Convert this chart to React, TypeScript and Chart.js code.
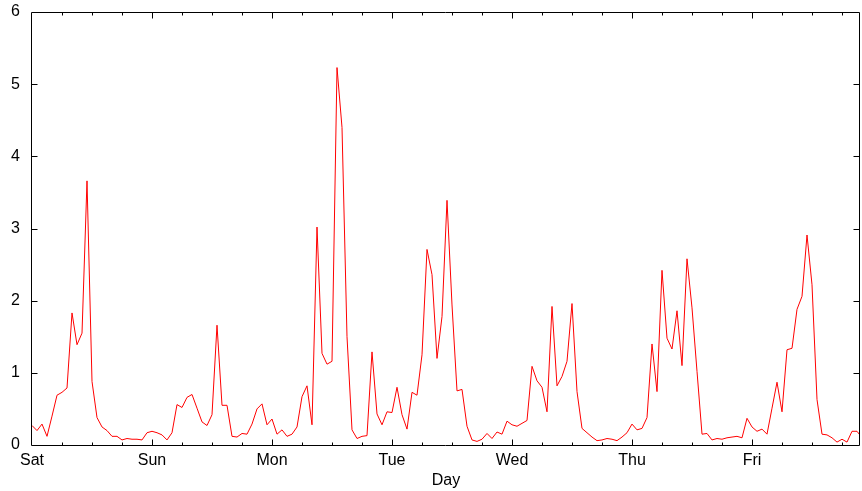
import { useEffect, useRef } from "react";
import { Chart, registerables } from "chart.js";

Chart.register(...registerables);

// Hourly readings, one array per day (index 0 = midnight)
const satValues = [0.27, 0.2, 0.29, 0.12, 0.4, 0.69, 0.73, 0.79, 1.83, 1.39, 1.55, 3.66, 0.88, 0.38, 0.25, 0.2, 0.12, 0.12, 0.07, 0.09, 0.08, 0.08, 0.07, 0.17];
const sunValues = [0.19, 0.17, 0.14, 0.07, 0.17, 0.56, 0.52, 0.66, 0.7, 0.51, 0.32, 0.27, 0.42, 1.66, 0.55, 0.55, 0.12, 0.11, 0.16, 0.15, 0.29, 0.5, 0.57, 0.28];
const monValues = [0.36, 0.15, 0.21, 0.12, 0.15, 0.25, 0.67, 0.82, 0.28, 3.02, 1.27, 1.12, 1.16, 5.23, 4.4, 1.5, 0.21, 0.09, 0.12, 0.13, 1.29, 0.43, 0.28, 0.46];
const tueValues = [0.45, 0.8, 0.42, 0.22, 0.73, 0.69, 1.25, 2.71, 2.36, 1.2, 1.78, 3.39, 1.94, 0.75, 0.77, 0.26, 0.07, 0.05, 0.08, 0.16, 0.09, 0.18, 0.15, 0.33];
const wedValues = [0.28, 0.26, 0.3, 0.34, 1.09, 0.89, 0.8, 0.46, 1.92, 0.82, 0.95, 1.16, 1.96, 0.74, 0.23, 0.17, 0.11, 0.06, 0.07, 0.09, 0.08, 0.06, 0.11, 0.17];
const thuValues = [0.29, 0.21, 0.23, 0.38, 1.4, 0.74, 2.42, 1.48, 1.33, 1.86, 1.1, 2.58, 1.9, 1.02, 0.15, 0.16, 0.07, 0.09, 0.08, 0.1, 0.11, 0.12, 0.1, 0.37];
const friValues = [0.25, 0.19, 0.22, 0.15, 0.51, 0.87, 0.46, 1.32, 1.34, 1.88, 2.06, 2.91, 2.22, 0.63, 0.15, 0.14, 0.1, 0.04, 0.08, 0.04, 0.19, 0.19, 0.1];

const dayLabels = ["Sat", "Sun", "Mon", "Tue", "Wed", "Thu", "Fri"];
const yTicks = [0, 1, 2, 3, 4, 5, 6];

const HOURS_PER_DAY = 24;
const X_MAX = 165.6;

const hourly = [satValues, sunValues, monValues, tueValues, wedValues, thuValues, friValues].flat();
const points = hourly.map((v, i) => ({ x: i, y: v }));

// Box around the plot with inward tick marks on all four sides
const framePlugin = {
  id: "frame",
  afterDraw(chart: any) {
    const { ctx, chartArea: a, scales } = chart;
    const xs = scales.x;
    const ys = scales.y;
    ctx.save();
    ctx.strokeStyle = "#000";
    ctx.lineWidth = 1;
    const L = Math.round(a.left) - 0.5;
    const R = Math.round(a.right) - 0.5;
    const T = Math.round(a.top) + 0.5;
    const B = Math.round(a.bottom) + 0.5;
    ctx.beginPath();
    ctx.rect(L, T, R - L, B - T);
    ctx.stroke();
    ctx.beginPath();
    for (const v of yTicks) {
      if (v === 0 || v === 6) continue;
      const py = Math.round(ys.getPixelForValue(v)) + 0.5;
      ctx.moveTo(L, py);
      ctx.lineTo(L + 6, py);
      ctx.moveTo(R, py);
      ctx.lineTo(R - 6, py);
    }
    for (let h = 6; h < X_MAX; h += 6) {
      const px = Math.round(xs.getPixelForValue(h)) + 0.5;
      const len = h % HOURS_PER_DAY === 0 ? 6 : 3;
      ctx.moveTo(px, B);
      ctx.lineTo(px, B - len);
      ctx.moveTo(px, T);
      ctx.lineTo(px, T + len);
    }
    ctx.stroke();
    ctx.restore();
  },
};

export default function App() {
  const ref = useRef<HTMLCanvasElement>(null);

  useEffect(() => {
    if (!ref.current) return;
    const font = { family: "'Liberation Sans', Arial, sans-serif", size: 16 };
    const chart = new Chart(ref.current, {
      type: "line",
      data: {
        datasets: [
          {
            data: points,
            borderColor: "#ff0000",
            borderWidth: 1,
            pointRadius: 0,
            tension: 0,
            fill: false,
          },
        ],
      },
      options: {
        animation: false,
        responsive: false,
        events: [],
        layout: { padding: { left: 0, right: 2, top: 12, bottom: 0 } },
        plugins: { legend: { display: false }, tooltip: { enabled: false } },
        scales: {
          x: {
            type: "linear",
            min: 0,
            max: X_MAX,
            grid: { display: false, drawTicks: false },
            border: { display: false },
            afterFit: (s: any) => {
              s.height = 46;
              s.paddingLeft = 0;
              s.paddingRight = 0;
            },
            afterBuildTicks: (s: any) => {
              s.ticks = dayLabels.map((_, i) => ({ value: i * HOURS_PER_DAY }));
            },
            ticks: {
              color: "#000",
              font,
              padding: 6,
              maxRotation: 0,
              autoSkip: false,
              callback: (v: any) => dayLabels[Math.round(Number(v) / HOURS_PER_DAY)] ?? "",
            },
            title: {
              display: true,
              text: "Day",
              color: "#000",
              font,
              padding: { top: 0, bottom: 1 },
            },
          },
          y: {
            min: 0,
            max: 6,
            grid: { display: false, drawTicks: false },
            border: { display: false },
            afterFit: (s: any) => {
              s.width = 32;
              s.paddingTop = 0;
              s.paddingBottom = 0;
            },
            afterBuildTicks: (s: any) => {
              s.ticks = yTicks.map((v) => ({ value: v }));
            },
            ticks: { color: "#000", font, padding: 12 },
          },
        },
      },
      plugins: [framePlugin],
    });
    return () => chart.destroy();
  }, []);

  return (
    <div style={{ position: "fixed", left: 0, top: 0, width: 862, height: 491, background: "#fff" }}>
      <canvas ref={ref} width={862} height={491} style={{ display: "block" }} />
    </div>
  );
}
